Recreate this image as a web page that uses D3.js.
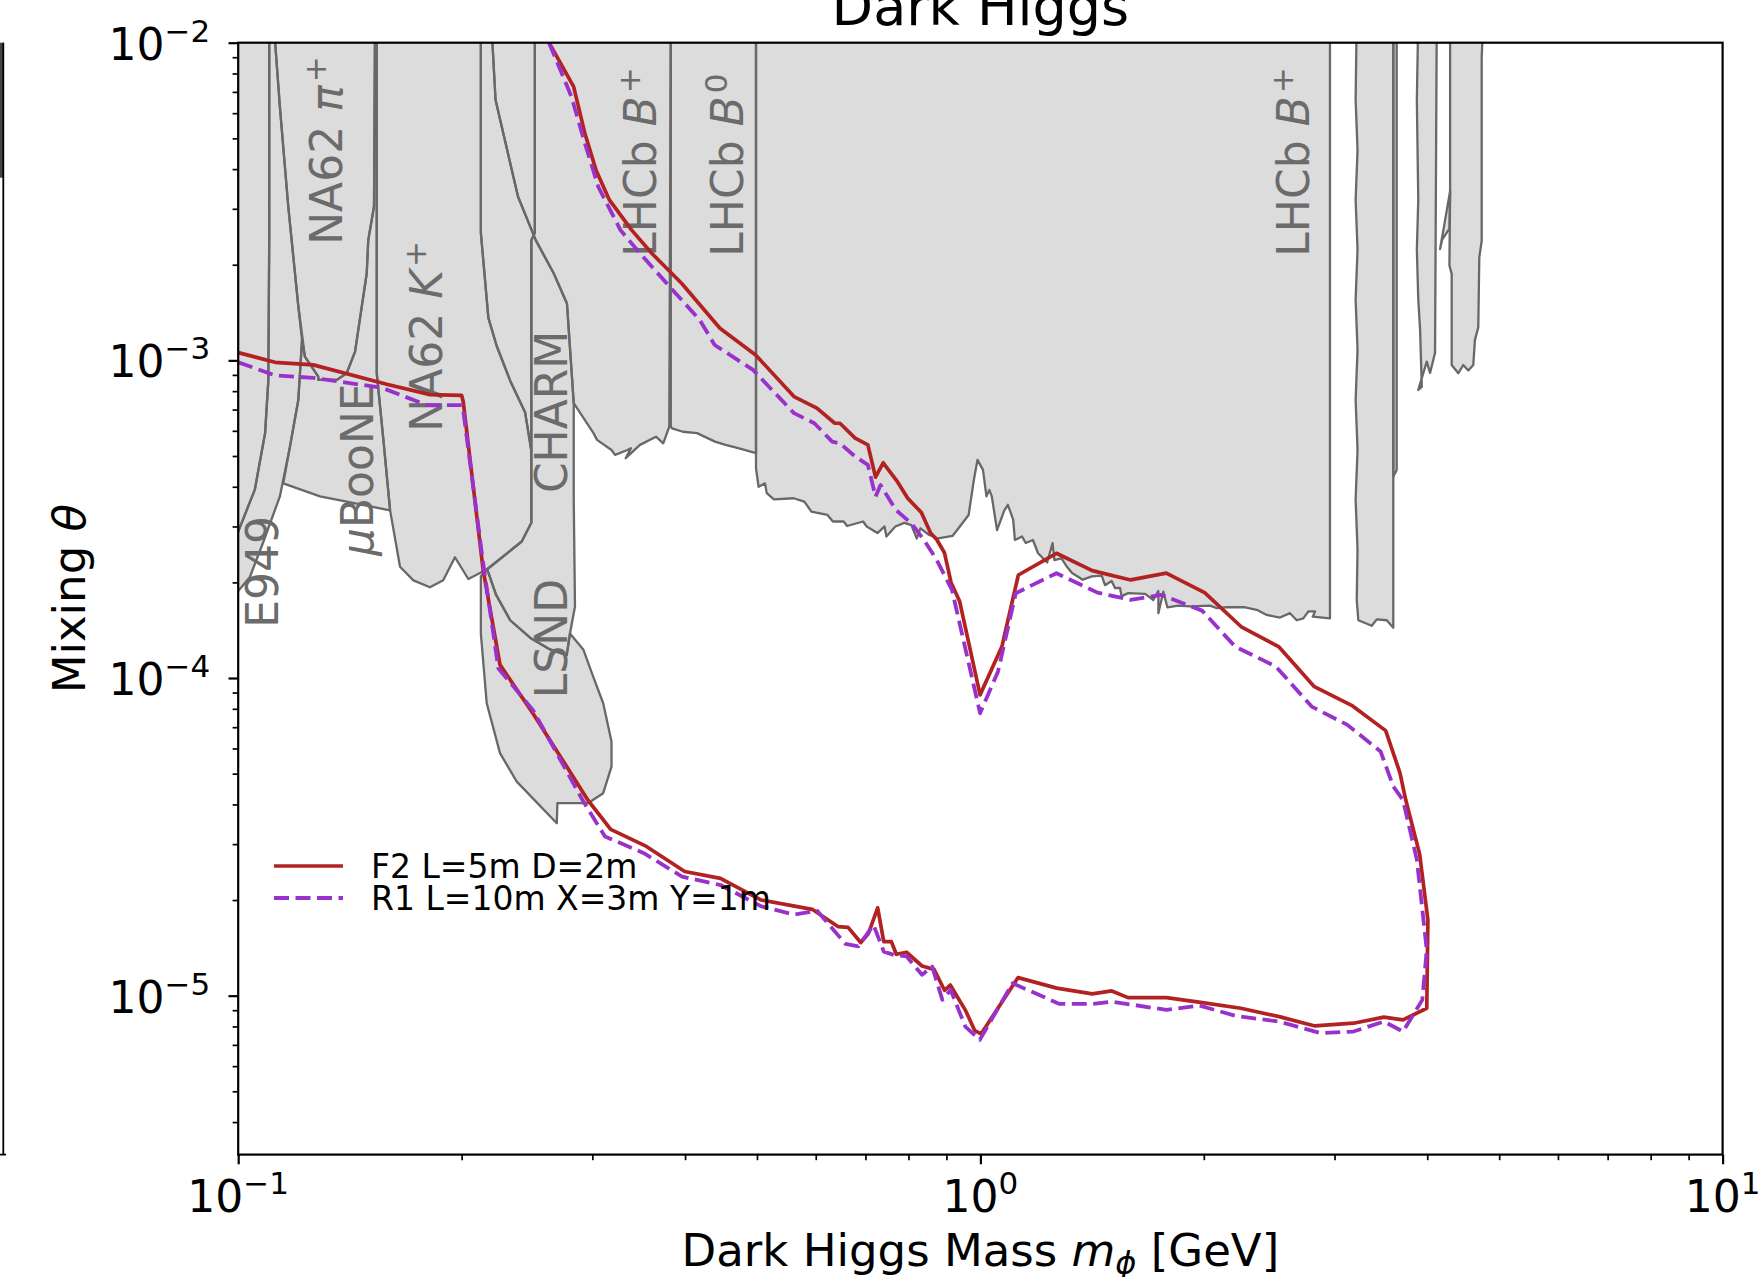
<!DOCTYPE html>
<html>
<head>
<meta charset="utf-8">
<script src="https://cdn.jsdelivr.net/npm/d3@7"></script>
<style>
  body { margin: 0; background: #fff; }
  svg { display: block; }
  text { font-family: "DejaVu Sans", sans-serif; }
</style>
</head>
<body>
<div id="vis-darkhiggs"></div>
<script>
(function(){
  // Axis ranges and ticks (mass in GeV, mixing angle theta)
  const xDomain = [0.1, 10];
  const yDomain = [3.16e-6, 1e-2];
  const xMajor = [0.1, 1, 10];
  const xMajorExp = ["\u22121", "0", "1"];
  const xMinor = [0.2, 0.3, 0.4, 0.5, 0.6, 0.7, 0.8, 0.9, 2, 3, 4, 5, 6, 7, 8, 9];
  const yMajor = [1e-5, 1e-4, 1e-3, 1e-2];
  const yMajorExp = ["\u22125", "\u22124", "\u22123", "\u22122"];
  const yMinor = [4e-6, 5e-6, 6e-6, 7e-6, 8e-6, 9e-6,
    2e-5, 3e-5, 4e-5, 5e-5, 6e-5, 7e-5, 8e-5, 9e-5,
    2e-4, 3e-4, 4e-4, 5e-4, 6e-4, 7e-4, 8e-4, 9e-4,
    2e-3, 3e-3, 4e-3, 5e-3, 6e-3, 7e-3, 8e-3, 9e-3];

  // Excluded regions, [mass, theta] outlines (top edge runs past the frame)
  const leftEdgeRegion = [[0.095,0.012],[0.1101,0.012],[0.1101,2.39e-3],[0.1098,8.63e-4],[0.1087,5.9e-4],[0.1053,3.92e-4],[0.1,2.89e-4],[0.095,2.75e-4]];
  const e949Region = [[0.1101,0.012],[0.1115,0.012],[0.1138,6.29e-3],[0.1168,3.05e-3],[0.1205,1.48e-3],[0.1219,1.16e-3],[0.1205,7.5e-4],[0.1174,5.34e-4],[0.1138,3.73e-4],[0.1081,2.68e-4],[0.1037,2.08e-4],[0.1,1.88e-4],[0.095,1.8e-4],[0.095,2.75e-4],[0.1,2.89e-4],[0.1053,3.92e-4],[0.1087,5.9e-4],[0.1098,8.63e-4],[0.1101,2.39e-3]];
  const na62PiRegion = [[0.1115,0.012],[0.1138,6.29e-3],[0.1168,3.05e-3],[0.1205,1.48e-3],[0.123,1.027e-3],[0.1282,8.89e-4],[0.1282,8.68e-4],[0.1358,8.68e-4],[0.14,9.11e-4],[0.1437,1.065e-3],[0.149,1.88e-3],[0.1497,2.39e-3],[0.1524,3.05e-3],[0.1529,0.012]];
  const microBooNERegion = [[0.115,4.1e-4],[0.1289,3.73e-4],[0.14,3.59e-4],[0.1602,3.37e-4],[0.1569,5.62e-4],[0.1537,9.11e-4],[0.1537,0.012],[0.1529,0.012],[0.1524,3.05e-3],[0.1497,2.39e-3],[0.149,1.88e-3],[0.1437,1.065e-3],[0.14,9.11e-4],[0.1358,8.68e-4],[0.1282,8.68e-4],[0.1282,8.89e-4],[0.123,1.027e-3],[0.1219,1.16e-3],[0.1205,7.5e-4],[0.1174,5.34e-4]];
  const na62KRegion = [[0.1537,0.012],[0.1537,9.11e-4],[0.1569,5.62e-4],[0.1602,3.37e-4],[0.1652,2.24e-4],[0.1722,2.03e-4],[0.1813,1.93e-4],[0.1889,2.03e-4],[0.1959,2.4e-4],[0.2042,2.05e-4],[0.2165,2.2e-4],[0.241,2.69e-4],[0.2483,3.08e-4],[0.2483,5.19e-4],[0.2435,6.87e-4],[0.2325,8.63e-4],[0.223,1.11e-3],[0.2173,1.36e-3],[0.2123,2.52e-3],[0.2123,0.012]];
  const na62KEdgeRegion = [[0.2123,0.012],[0.2123,2.52e-3],[0.2173,1.36e-3],[0.223,1.11e-3],[0.2325,8.63e-4],[0.2435,6.87e-4],[0.2483,5.19e-4],[0.2483,2.39e-3],[0.251,2.52e-3],[0.251,0.012]];
  const charmRegion = [[0.251,0.012],[0.251,2.52e-3],[0.2483,2.39e-3],[0.2483,3.64e-4],[0.2483,3.08e-4],[0.241,2.69e-4],[0.2165,2.2e-4],[0.2225,1.83e-4],[0.2325,1.52e-4],[0.2473,1.34e-4],[0.2631,1.23e-4],[0.2771,1.18e-4],[0.2799,1.38e-4],[0.2843,1.68e-4],[0.2832,3.64e-4],[0.2832,7.33e-4],[0.2773,1.51e-3],[0.2661,1.88e-3],[0.2517,2.39e-3],[0.2382,3.28e-3],[0.2222,6.6e-3],[0.2191,0.012]];
  const lsndRegion = [[0.2165,2.2e-4],[0.2123,2.09e-4],[0.2123,1.38e-4],[0.2162,8.33e-5],[0.2253,5.8e-5],[0.2373,4.72e-5],[0.2687,3.49e-5],[0.2692,4.04e-5],[0.2963,4.04e-5],[0.3103,4.34e-5],[0.3184,5.26e-5],[0.3184,6.31e-5],[0.3103,8.33e-5],[0.3008,1.01e-4],[0.2917,1.23e-4],[0.2799,1.38e-4],[0.2771,1.18e-4],[0.2631,1.23e-4],[0.2473,1.34e-4],[0.2325,1.52e-4],[0.2225,1.83e-4]];
  const lhcbBpLowRegion = [[0.2191,0.012],[0.2222,6.6e-3],[0.2382,3.28e-3],[0.2517,2.39e-3],[0.2661,1.88e-3],[0.2773,1.51e-3],[0.2832,7.33e-4],[0.3011,5.9e-4],[0.3044,5.62e-4],[0.3184,5.22e-4],[0.3219,5.04e-4],[0.3346,5.22e-4],[0.3382,5.29e-4],[0.3327,4.92e-4],[0.3478,5.42e-4],[0.3655,5.75e-4],[0.3738,5.48e-4],[0.3809,6.18e-4],[0.3827,0.012]];
  const lhcbB0Region = [[0.3827,0.012],[0.3827,6.18e-4],[0.3842,6.11e-4],[0.3973,5.96e-4],[0.4152,5.9e-4],[0.4389,5.55e-4],[0.4537,5.42e-4],[0.4717,5.29e-4],[0.4958,5.12e-4],[0.4985,5.12e-4],[0.4985,0.012]];
  const lhcbBpRegion = [[0.4985,0.012],[0.4985,4.57e-4],[0.5025,4.0e-4],[0.5126,4.1e-4],[0.5154,3.82e-4],[0.5269,3.65e-4],[0.5602,3.68e-4],[0.5791,3.59e-4],[0.592,3.34e-4],[0.6223,3.26e-4],[0.6328,3.11e-4],[0.6543,3.11e-4],[0.6613,3.01e-4],[0.695,3.11e-4],[0.7028,3.0e-4],[0.7267,2.86e-4],[0.7428,3.0e-4],[0.747,2.79e-4],[0.7681,3.0e-4],[0.7896,3.08e-4],[0.8072,3.03e-4],[0.8209,2.75e-4],[0.8302,2.96e-4],[0.8534,2.82e-4],[0.8772,2.75e-4],[0.9171,2.8e-4],[0.9533,3.15e-4],[0.9641,3.26e-4],[0.9799,4.2e-4],[0.991,4.86e-4],[1.008,4.52e-4],[1.019,3.73e-4],[1.028,3.91e-4],[1.036,3.73e-4],[1.053,2.92e-4],[1.077,3.37e-4],[1.089,3.51e-4],[1.107,3.15e-4],[1.113,2.72e-4],[1.138,2.79e-4],[1.151,2.66e-4],[1.177,2.72e-4],[1.196,2.47e-4],[1.23,2.31e-4],[1.251,2.66e-4],[1.258,2.35e-4],[1.286,2.38e-4],[1.308,2.24e-4],[1.329,2.14e-4],[1.374,2.04e-4],[1.413,2.09e-4],[1.457,2.1e-4],[1.472,1.96e-4],[1.503,2.02e-4],[1.518,1.92e-4],[1.542,1.92e-4],[1.55,1.81e-4],[1.582,1.85e-4],[1.667,1.84e-4],[1.71,1.76e-4],[1.737,1.88e-4],[1.737,1.6e-4],[1.764,1.87e-4],[1.786,1.67e-4],[1.848,1.69e-4],[1.916,1.68e-4],[2.039,1.69e-4],[2.082,1.66e-4],[2.147,1.67e-4],[2.273,1.67e-4],[2.357,1.64e-4],[2.431,1.58e-4],[2.533,1.55e-4],[2.613,1.6e-4],[2.668,1.52e-4],[2.723,1.54e-4],[2.766,1.62e-4],[2.824,1.62e-4],[2.804,1.56e-4],[2.958,1.54e-4],[2.958,0.012]];
  const band2Region = [[3.214,0.012],[3.203,6.6e-3],[3.222,4.59e-3],[3.203,3.2e-3],[3.222,2.23e-3],[3.203,1.55e-3],[3.222,1.08e-3],[3.203,7.5e-4],[3.222,5.22e-4],[3.203,3.64e-4],[3.222,2.53e-4],[3.214,1.76e-4],[3.23,1.52e-4],[3.367,1.46e-4],[3.42,1.53e-4],[3.528,1.52e-4],[3.6,1.44e-4],[3.6,0.012]];
  const band2EdgeRegion = [[3.6,0.012],[3.6,4.3e-4],[3.638,4.52e-4],[3.638,0.012]];
  const band3Region = [[3.89,0.012],[3.873,6.6e-3],[3.89,3.2e-3],[3.873,2.23e-3],[3.89,1.56e-3],[3.912,1.25e-3],[3.933,8.25e-4],[3.89,8.07e-4],[3.994,9.91e-4],[4.035,9.13e-4],[4.098,1.057e-3],[4.12,0.012]];
  const band4NotchRegion = [[4.294,3.41e-3],[4.162,2.24e-3],[4.19,2.4e-3],[4.285,2.6e-3]];
  const band4Region = [[4.294,0.012],[4.294,3.32e-3],[4.285,1.99e-3],[4.315,1.87e-3],[4.315,9.67e-4],[4.405,9.11e-4],[4.473,9.67e-4],[4.543,9.29e-4],[4.614,9.67e-4],[4.638,1.16e-3],[4.686,1.27e-3],[4.701,2.11e-3],[4.736,2.38e-3],[4.736,8.95e-3],[4.76,0.012]];

  const regions = [leftEdgeRegion, e949Region, na62PiRegion, microBooNERegion, na62KRegion,
    na62KEdgeRegion, charmRegion, lsndRegion, lhcbBpLowRegion, lhcbB0Region, lhcbBpRegion,
    band2Region, band2EdgeRegion, band3Region, band4NotchRegion, band4Region];

  // Region labels: text pieces and their [mass, theta] anchor
  const regionLabels = [
    { parts: [["E949"]], m: 0.1132, th: 1.44e-4 },
    { parts: [["\u03bc", "it"], ["BooNE"]], m: 0.1521, th: 2.42e-4 },
    { parts: [["NA62 "], ["\u03c0", "it"], ["+", "sup"]], m: 0.1378, th: 2.31e-3 },
    { parts: [["NA62 "], ["K", "it"], ["+", "sup"]], m: 0.188, th: 5.96e-4 },
    { parts: [["CHARM"]], m: 0.2771, th: 3.82e-4 },
    { parts: [["LSND"]], m: 0.2771, th: 8.64e-5 },
    { parts: [["LHCb "], ["B", "it"], ["+", "sup"]], m: 0.366, th: 2.12e-3 },
    { parts: [["LHCb "], ["B", "it"], ["0", "sup"]], m: 0.4786, th: 2.12e-3 },
    { parts: [["LHCb "], ["B", "it"], ["+", "sup"]], m: 2.771, th: 2.12e-3 }
  ];

  // Sensitivity curves
  const f2Curve = [[0.1,1.058e-3],[0.1121,9.86e-4],[0.1262,9.68e-4],[0.1585,8.41e-4],[0.1813,7.8e-4],[0.2,7.76e-4],[0.201,7.41e-4],[0.2138,2.19e-4],[0.2253,1.1e-4],[0.2497,7.72e-5],[0.2828,4.88e-5],[0.2958,4.13e-5],[0.3176,3.34e-5],[0.3548,2.95e-5],[0.3996,2.46e-5],[0.4465,2.34e-5],[0.5067,2.0e-5],[0.5934,1.87e-5],[0.6427,1.65e-5],[0.6633,1.64e-5],[0.6899,1.47e-5],[0.7066,1.57e-5],[0.7271,1.89e-5],[0.741,1.48e-5],[0.7586,1.48e-5],[0.7704,1.35e-5],[0.7952,1.37e-5],[0.8344,1.24e-5],[0.866,1.21e-5],[0.8946,1.04e-5],[0.9107,1.08e-5],[0.9552,8.97e-6],[0.9828,7.76e-6],[1.002,7.58e-6],[1.124,1.14e-5],[1.267,1.056e-5],[1.415,1.013e-5],[1.503,1.035e-5],[1.581,9.86e-6],[1.781,9.86e-6],[1.991,9.51e-6],[2.243,9.13e-6],[2.527,8.59e-6],[2.823,8.03e-6],[3.181,8.19e-6],[3.497,8.56e-6],[3.71,8.39e-6],[3.994,9.13e-6],[4.008,1.73e-5],[3.907,2.79e-5],[3.742,4.13e-5],[3.676,5.02e-5],[3.516,6.83e-5],[3.173,8.17e-5],[2.818,9.39e-5],[2.522,1.256e-4],[2.25,1.445e-4],[2.005,1.857e-4],[1.78,2.138e-4],[1.594,2.036e-4],[1.415,2.178e-4],[1.266,2.47e-4],[1.125,2.11e-4],[1.069,1.256e-4],[0.999,8.85e-5],[0.9378,1.74e-4],[0.9129,2.0e-4],[0.8944,2.48e-4],[0.8732,2.73e-4],[0.8568,2.86e-4],[0.8326,3.32e-4],[0.7981,3.68e-4],[0.773,4.15e-4],[0.7396,4.76e-4],[0.7223,4.29e-4],[0.7053,5.42e-4],[0.678,5.69e-4],[0.6467,6.34e-4],[0.6366,6.34e-4],[0.6021,7.07e-4],[0.5608,7.69e-4],[0.4979,1.04e-3],[0.4457,1.262e-3],[0.3957,1.748e-3],[0.3609,2.17e-3],[0.339,2.57e-3],[0.3163,3.2e-3],[0.3035,3.97e-3],[0.2931,5.19e-3],[0.2831,7.27e-3],[0.2623,1.0e-2]];
  const r1Curve = [[0.1,9.86e-4],[0.1121,8.97e-4],[0.1262,8.81e-4],[0.1561,8.2e-4],[0.1795,7.23e-4],[0.2,7.23e-4],[0.201,6.96e-4],[0.2138,2.3e-4],[0.2241,1.074e-4],[0.2497,7.91e-5],[0.2917,4.09e-5],[0.312,3.17e-5],[0.352,2.81e-5],[0.3963,2.37e-5],[0.4465,2.23e-5],[0.5067,1.91e-5],[0.5615,1.8e-5],[0.6027,1.85e-5],[0.658,1.455e-5],[0.6846,1.43e-5],[0.7178,1.67e-5],[0.741,1.376e-5],[0.7648,1.344e-5],[0.7952,1.33e-5],[0.8344,1.163e-5],[0.861,1.235e-5],[0.8887,9.7e-6],[0.9117,1.043e-5],[0.9543,7.99e-6],[0.998,7.26e-6],[1.105,1.094e-5],[1.278,9.42e-6],[1.415,9.42e-6],[1.503,9.58e-6],[1.781,9.02e-6],[1.974,9.31e-6],[2.205,8.64e-6],[2.527,8.29e-6],[2.873,7.62e-6],[3.181,7.71e-6],[3.497,8.29e-6],[3.71,7.71e-6],[3.939,9.7e-6],[3.994,1.393e-5],[3.873,2.68e-5],[3.71,4.13e-5],[3.601,4.55e-5],[3.461,5.87e-5],[3.122,7.12e-5],[2.795,8.13e-5],[2.502,1.086e-4],[2.204,1.256e-4],[1.989,1.63e-4],[1.752,1.827e-4],[1.594,1.762e-4],[1.438,1.857e-4],[1.266,2.138e-4],[1.116,1.849e-4],[1.056,1.047e-4],[0.999,7.75e-5],[0.9156,1.894e-4],[0.8732,2.353e-4],[0.8395,2.72e-4],[0.8069,3.07e-4],[0.7694,3.38e-4],[0.7336,4.05e-4],[0.7223,3.72e-4],[0.7053,4.69e-4],[0.678,4.98e-4],[0.6467,5.48e-4],[0.6313,5.55e-4],[0.5974,6.34e-4],[0.5608,6.82e-4],[0.494,9.33e-4],[0.4385,1.118e-3],[0.4187,1.34e-3],[0.3813,1.706e-3],[0.351,2.12e-3],[0.3274,2.57e-3],[0.3056,3.52e-3],[0.2931,4.83e-3],[0.2812,6.76e-3],[0.2623,1.0e-2]];

  const seriesNames = ["F2 L=5m D=2m", "R1 L=10m X=3m Y=1m"];
  const seriesColors = ["#b22222", "#9932cc"];

  // Figure size and margins
  const width = 1762, height = 1277;
  const margin = { top: 42.7, right: 39.4, bottom: 122.4, left: 238.2 };

  const x = d3.scaleLog().domain(xDomain).range([margin.left, width - margin.right]);
  const y = d3.scaleLog().domain(yDomain).range([height - margin.bottom, margin.top]);

  const svg = d3.select("#vis-darkhiggs")
    .append("svg")
    .attr("width", width)
    .attr("height", height);

  svg.append("defs").append("clipPath").attr("id", "plot-clip")
    .append("rect")
    .attr("x", margin.left).attr("y", margin.top)
    .attr("width", width - margin.left - margin.right)
    .attr("height", height - margin.top - margin.bottom);

  // leftover edge of the neighbouring panel
  svg.append("rect").attr("x", 0).attr("y", margin.top).attr("width", 4).attr("height", 135).attr("fill", "#444");
  svg.append("line").attr("x1", 3.3).attr("x2", 3.3).attr("y1", margin.top).attr("y2", height - margin.bottom)
    .attr("stroke", "#000").attr("stroke-width", 1.8);
  svg.append("line").attr("x1", 0).attr("x2", 6).attr("y1", height - margin.bottom).attr("y2", height - margin.bottom)
    .attr("stroke", "#000").attr("stroke-width", 1.8);

  const plot = svg.append("g").attr("clip-path", "url(#plot-clip)");

  const line = d3.line().x(d => x(d[0])).y(d => y(d[1]));

  // region fills first, then their outlines
  plot.selectAll(".region-fill")
    .data(regions)
    .enter().append("path")
    .attr("class", "region-fill")
    .attr("d", d => line(d) + "Z")
    .attr("fill", "#dcdcdc")
    .attr("stroke", "none");

  plot.selectAll(".region-edge")
    .data(regions)
    .enter().append("path")
    .attr("class", "region-edge")
    .attr("d", d => line(d) + "Z")
    .attr("fill", "none")
    .attr("stroke", "#686868")
    .attr("stroke-width", 2.3)
    .attr("stroke-linejoin", "round");

  // region labels, rotated
  regionLabels.forEach(lab => {
    const t = plot.append("text")
      .attr("transform", `translate(${x(lab.m)},${y(lab.th)}) rotate(-90)`)
      .attr("font-size", 44)
      .attr("fill", "#6b6b6b");
    lab.parts.forEach(p => {
      const ts = t.append("tspan").text(p[0]);
      if (p[1] === "it") ts.attr("font-style", "italic");
      if (p[1] === "sup") ts.attr("font-size", 31).attr("dy", -16).attr("dx", 3);
    });
  });

  // curves
  plot.append("path").datum(f2Curve)
    .attr("d", line)
    .attr("fill", "none")
    .attr("stroke", seriesColors[0])
    .attr("stroke-width", 3.7)
    .attr("stroke-linejoin", "round");

  plot.append("path").datum(r1Curve)
    .attr("d", line)
    .attr("fill", "none")
    .attr("stroke", seriesColors[1])
    .attr("stroke-width", 3.8)
    .attr("stroke-dasharray", "15,6.5")
    .attr("stroke-linejoin", "round");

  // frame
  svg.append("rect")
    .attr("x", margin.left).attr("y", margin.top)
    .attr("width", width - margin.left - margin.right)
    .attr("height", height - margin.top - margin.bottom)
    .attr("fill", "none").attr("stroke", "#000").attr("stroke-width", 2.2);

  // axes (ticks only; labels drawn below)
  function tickAxis(axis, values, size, w) {
    return g => {
      g.call(axis.tickValues(values).tickSize(size).tickSizeOuter(0).tickFormat(""));
      g.select(".domain").remove();
      g.selectAll("line").attr("stroke", "#000").attr("stroke-width", w);
    };
  }
  const xAxisY = height - margin.bottom;
  svg.append("g").attr("transform", `translate(0,${xAxisY})`).call(tickAxis(d3.axisBottom(x), xMajor, 9.7, 2.2));
  svg.append("g").attr("transform", `translate(0,${xAxisY})`).call(tickAxis(d3.axisBottom(x), xMinor, 5.6, 1.7));
  svg.append("g").attr("transform", `translate(${margin.left},0)`).call(tickAxis(d3.axisLeft(y), yMajor, 9.7, 2.2));
  svg.append("g").attr("transform", `translate(${margin.left},0)`).call(tickAxis(d3.axisLeft(y), yMinor, 5.6, 1.7));

  xMajor.forEach((v, i) => {
    const t = svg.append("text").attr("x", x(v)).attr("y", xAxisY + 57)
      .attr("text-anchor", "middle").attr("font-size", 44).attr("fill", "#000");
    t.append("tspan").text("10");
    t.append("tspan").attr("font-size", 31).attr("dy", -18).text(xMajorExp[i]);
  });
  yMajor.forEach((v, i) => {
    const t = svg.append("text").attr("x", margin.left - 28).attr("y", y(v) + 17)
      .attr("text-anchor", "end").attr("font-size", 44).attr("fill", "#000");
    t.append("tspan").text("10");
    t.append("tspan").attr("font-size", 31).attr("dy", -18).text(yMajorExp[i]);
  });

  // axis titles
  const xl = svg.append("text")
    .attr("x", (margin.left + width - margin.right) / 2).attr("y", 1266)
    .attr("text-anchor", "middle").attr("font-size", 45).attr("fill", "#000");
  xl.append("tspan").text("Dark Higgs Mass ");
  xl.append("tspan").attr("font-style", "italic").text("m");
  xl.append("tspan").attr("font-style", "italic").attr("font-size", 32).attr("dy", 8).text("\u03d5");
  xl.append("tspan").attr("dy", -8).text(" [GeV]");

  const yl = svg.append("text")
    .attr("transform", `translate(85,${(margin.top + height - margin.bottom) / 2}) rotate(-90)`)
    .attr("text-anchor", "middle").attr("font-size", 45).attr("fill", "#000");
  yl.append("tspan").text("Mixing ");
  yl.append("tspan").attr("font-style", "italic").text("\u03b8");

  svg.append("text")
    .attr("x", (margin.left + width - margin.right) / 2).attr("y", 25)
    .attr("text-anchor", "middle").attr("font-size", 54).attr("fill", "#000")
    .text("Dark Higgs");

  // legend
  const legend = svg.append("g");
  seriesNames.forEach((name, i) => {
    const ly = 866 + i * 32;
    legend.append("line")
      .attr("x1", 274).attr("x2", 343).attr("y1", ly).attr("y2", ly)
      .attr("stroke", seriesColors[i]).attr("stroke-width", i ? 3.8 : 3.7)
      .attr("stroke-dasharray", i ? "15,6.5" : null);
    legend.append("text")
      .attr("x", 371).attr("y", ly + 11.5)
      .attr("font-size", 33).attr("fill", "#000")
      .text(name);
  });
})();
</script>
</body>
</html>
